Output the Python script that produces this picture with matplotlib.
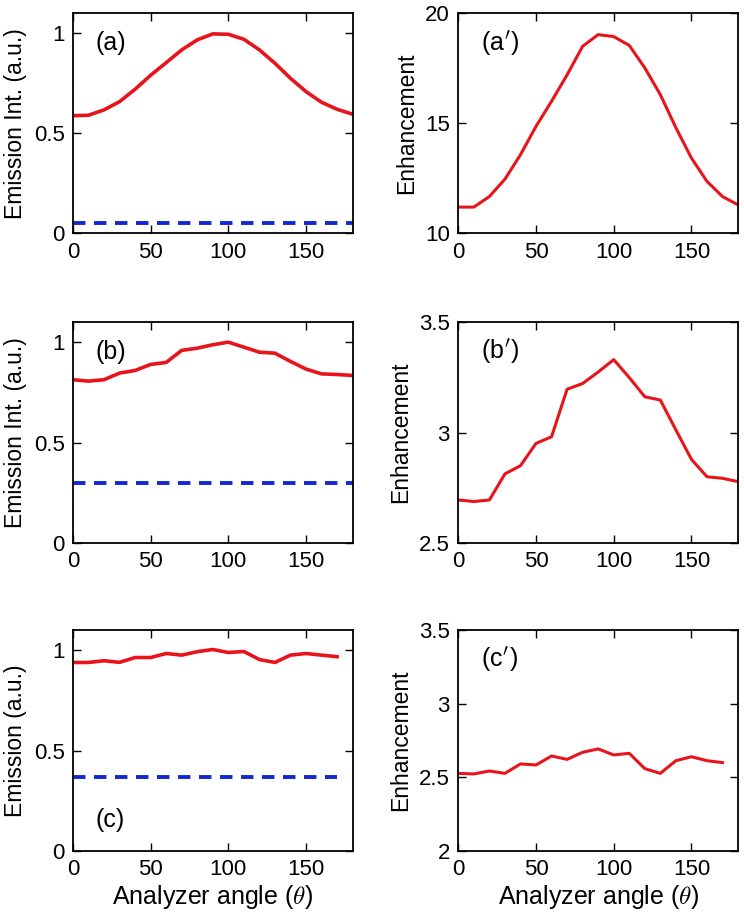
import numpy as np
import matplotlib
matplotlib.use("Agg")
import matplotlib.pyplot as plt

plt.rcParams['font.family'] = ['Liberation Sans', 'DejaVu Sans']
plt.rcParams['mathtext.fontset'] = 'cm'

angle = np.arange(0, 190, 10)
angle_c = np.arange(0, 180, 10)

# emission intensity (normalised), left column
emis_a = [0.588, 0.59, 0.617, 0.658, 0.72, 0.79, 0.853, 0.917, 0.967, 0.997,
          0.995, 0.97, 0.917, 0.85, 0.775, 0.708, 0.655, 0.62, 0.595]
emis_b = [0.813, 0.806, 0.813, 0.846, 0.859, 0.889, 0.899, 0.959, 0.970, 0.987,
          1.0, 0.975, 0.95, 0.945, 0.904, 0.866, 0.842, 0.839, 0.834]
emis_c = [0.9385, 0.9385, 0.947, 0.939, 0.963, 0.963, 0.983, 0.975, 0.992, 1.003,
          0.988, 0.993, 0.953, 0.9385, 0.975, 0.983, 0.975, 0.967]
ref_a = 0.05
ref_b = 0.30
ref_c = 0.37

# enhancement, right column
enh_a = [11.19, 11.19, 11.67, 12.46, 13.57, 14.86, 16.0, 17.2, 18.5, 19.03,
         18.94, 18.54, 17.52, 16.3, 14.8, 13.42, 12.36, 11.67, 11.29]
enh_b = [2.695, 2.688, 2.695, 2.813, 2.85, 2.951, 2.981, 3.196, 3.222, 3.274,
         3.33, 3.249, 3.162, 3.147, 3.012, 2.879, 2.80, 2.793, 2.778]
enh_c = [2.527, 2.523, 2.543, 2.527, 2.591, 2.584, 2.645, 2.622, 2.670, 2.693,
         2.652, 2.663, 2.559, 2.527, 2.613, 2.640, 2.613, 2.600]

fig = plt.figure(figsize=(7.44, 9.22), dpi=100)

lx, rx, w = 0.098, 0.616, 0.376
rows = [(0.747, 0.2386), (0.411, 0.2397), (0.077, 0.2397)]

fs = 16      # ticks / y labels
fl = 18      # x label and panel tags

def style(ax, ylim, yticks, yticklabels):
    ax.set_xlim(0, 180)
    ax.set_ylim(*ylim)
    ax.set_xticks([0, 50, 100, 150])
    ax.set_yticks(yticks)
    ax.set_yticklabels(yticklabels)
    ax.tick_params(direction='in', top=True, right=True, labelsize=fs,
                   length=6, width=1.0, pad=6)
    for s in ax.spines.values():
        s.set_linewidth(1.3)

left_data = [(emis_a, ref_a, angle, "Emission Int. (a.u.)", "(a)"),
             (emis_b, ref_b, angle, "Emission Int. (a.u.)", "(b)"),
             (emis_c, ref_c, angle_c, "Emission (a.u.)", "(c)")]
right_data = [(enh_a, angle, (10, 20), [10, 15, 20], ["10", "15", "20"], r"(a$'$)"),
              (enh_b, angle, (2.5, 3.5), [2.5, 3, 3.5], ["2.5", "3", "3.5"], r"(b$'$)"),
              (enh_c, angle_c, (2, 3.5), [2, 2.5, 3, 3.5], ["2", "2.5", "3", "3.5"], r"(c$'$)")]

for i, (y0, h) in enumerate(rows):
    em, ref, xs, ylab, tag = left_data[i]
    ax = fig.add_axes([lx, y0, w, h])
    ax.plot(xs, em, color='#e8141b', lw=2.6, solid_joinstyle='round')
    ax.plot([xs[0], xs[-1]], [ref, ref], color='#1428d2', lw=2.8,
            dashes=(3.2, 2.2))
    style(ax, (0, 1.1), [0, 0.5, 1], ["0", "0.5", "1"])
    ax.set_ylabel(ylab, fontsize=fs + 0.5, labelpad=5)
    ty = 0.14 if tag == "(c)" else 0.864
    ax.text(0.082, ty, tag, transform=ax.transAxes, fontsize=fl, va='center')
    if i == 2:
        ax.set_xlabel(r"Analyzer angle ($\theta$)", fontsize=fl, labelpad=2)

    en, xs, yl, yt, ytl, tag = right_data[i]
    ax = fig.add_axes([rx, y0, w, h])
    ax.plot(xs, en, color='#e8141b', lw=2.2, solid_joinstyle='round')
    style(ax, yl, yt, ytl)
    ax.set_ylabel("Enhancement", fontsize=fs + 0.5, labelpad=5)
    ax.text(0.082, 0.864, tag, transform=ax.transAxes, fontsize=fl, va='center')
    if i == 2:
        ax.set_xlabel(r"Analyzer angle ($\theta$)", fontsize=fl, labelpad=2)

fig.savefig("out.png", dpi=100)
